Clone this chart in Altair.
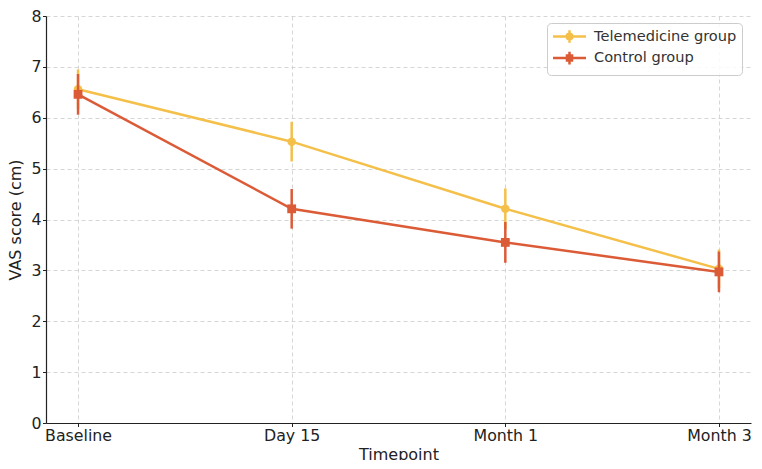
import altair as alt
import pandas as pd

# Mean VAS pain scores (cm) with spread, per follow-up visit
timepoints = ["Baseline", "Day 15", "Month 1", "Month 3"]
groups = ["Telemedicine group", "Control group"]
tele_mean = [6.56, 5.53, 4.21, 3.03]
tele_err = [0.39, 0.39, 0.40, 0.38]
ctrl_mean = [6.46, 4.21, 3.55, 2.97]
ctrl_err = [0.40, 0.39, 0.40, 0.40]

colors = ["#F4C04A", "#DC5B37"]
marker_shapes = ["circle", "square"]
# legend glyphs: line + error bar + marker (stacked strokes fill the marker)
legend_glyphs = [
    "M-2.36,0H2.36M0,-0.91V0.91"
    "M-0.4,0A0.4,0.4 0 1,0 0.4,0A0.4,0.4 0 1,0 -0.4,0"
    "M-0.15,0A0.15,0.15 0 1,0 0.15,0A0.15,0.15 0 1,0 -0.15,0",
    "M-2.36,0H2.36M0,-0.91V0.91"
    "M-0.36,-0.36H0.36V0.36H-0.36Z"
    "M-0.12,-0.12H0.12V0.12H-0.12Z",
]

rows = []
for g, means, errs in [(groups[0], tele_mean, tele_err), (groups[1], ctrl_mean, ctrl_err)]:
    for t, m, e in zip(timepoints, means, errs):
        rows.append({"group": g, "timepoint": t, "mean": m, "lo": m - e, "hi": m + e})
df = pd.DataFrame(rows)

base = alt.Chart(df)

x_enc = alt.X(
    "timepoint:N",
    sort=timepoints,
    scale=alt.Scale(type="point", padding=0.15),
    title="Timepoint",
    axis=alt.Axis(labelAngle=0, grid=True),
)
y_scale = alt.Scale(domain=[0, 8], nice=False)
y_enc = alt.Y(
    "mean:Q",
    scale=y_scale,
    title="VAS score (cm)",
    axis=alt.Axis(values=list(range(0, 9)), grid=True),
)

layers = []
for g, c, shp in zip(groups, colors, marker_shapes):
    sub = base.transform_filter(alt.datum.group == g)
    layers.append(sub.mark_line(color=c, strokeWidth=2.5).encode(x=x_enc, y=y_enc))
    layers.append(
        sub.mark_rule(color=c, strokeWidth=2.5).encode(
            x=x_enc, y=alt.Y("lo:Q", scale=y_scale), y2="hi:Q"
        )
    )
    layers.append(
        sub.mark_point(filled=True, shape=shp, size=72 if shp == "circle" else 78,
                       color=c, opacity=1).encode(x=x_enc, y=y_enc)
    )

legend = alt.Legend(
    title=None,
    orient="none",
    legendX=501,
    legendY=7,
    symbolSize=196,
    symbolStrokeWidth=2.5,
    symbolOpacity=1,
    symbolOffset=9,
    labelOffset=16,
    labelFontSize=14.6,
    labelColor="#333333",
    labelFont="DejaVu Sans",
    rowPadding=-1.4,
    padding=5,
    strokeColor="#cccccc",
    fillColor="rgba(255,255,255,0.85)",
    cornerRadius=4,
)

key = base.transform_filter("false").mark_point(filled=False, opacity=1, strokeWidth=2.5).encode(
    x=x_enc,
    y=y_enc,
    color=alt.Color("group:N", scale=alt.Scale(domain=groups, range=colors), legend=legend),
    shape=alt.Shape("group:N", scale=alt.Scale(domain=groups, range=legend_glyphs), legend=legend),
)

chart = (
    alt.layer(*layers, key)
    .properties(
        width=705,
        height=407,
        autosize=alt.AutoSizeParams(type="none"),
        padding={"left": 46, "top": 16, "right": 11, "bottom": 37},
        background="white",
    )
    .configure_view(stroke=None)
    .configure_axis(
        labelFont="DejaVu Sans",
        titleFont="DejaVu Sans",
        labelFontSize=15.8,
        titleFontSize=16,
        titleFontWeight="normal",
        labelColor="#222222",
        titleColor="#222222",
        domainColor="#222222",
        domainWidth=1.2,
        tickColor="#222222",
        tickSize=3.5,
        labelPadding=2,
        gridColor="#cccccc",
        gridDash=[4, 3],
        gridWidth=0.8,
    )
    .configure_axisX(titlePadding=3)
    .configure_axisY(titlePadding=7, labelPadding=1.5)
)

chart.save("out.html", embed_options={"renderer": "svg", "actions": False})
